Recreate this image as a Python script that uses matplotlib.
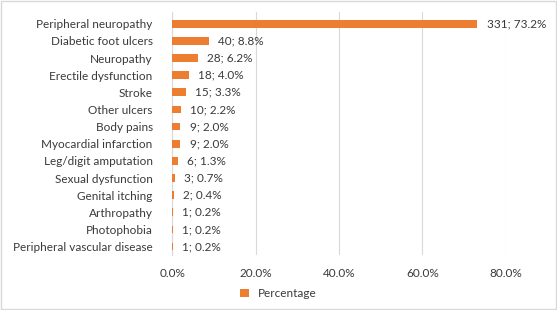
import matplotlib; matplotlib.use("Agg")
import matplotlib.pyplot as plt
from matplotlib.ticker import FuncFormatter
from matplotlib.patches import Rectangle

conditions = ["Peripheral neuropathy", "Diabetic foot ulcers", "Neuropathy", "Erectile dysfunction",
              "Stroke", "Other ulcers", "Body pains", "Myocardial infarction", "Leg/digit amputation",
              "Sexual dysfunction", "Genital itching", "Arthropathy", "Photophobia",
              "Peripheral vascular disease"]
counts = [331, 40, 28, 18, 15, 10, 9, 9, 6, 3, 2, 1, 1, 1]
percent = [73.2, 8.8, 6.2, 4.0, 3.3, 2.2, 2.0, 2.0, 1.3, 0.7, 0.4, 0.2, 0.2, 0.2]

plt.rcParams["font.family"] = ["Lato", "DejaVu Sans"]
TXT = "#3A3A3A"; ORANGE = "#ED7D31"; FS = 8.5

fig = plt.figure(figsize=(5.57, 3.10), dpi=100)
ax = fig.add_axes([0.309, 0.177, 0.599, 0.785])
y = list(range(len(conditions)))
ax.barh(y, percent, height=0.45, color=ORANGE, label="Percentage", zorder=3)
for yi, c, p in zip(y, counts, percent):
    ax.text(p + 2.2, yi, f"{c}; {p:.1f}%", va="center", ha="left", fontsize=FS, color=TXT)
ax.set_yticks(y); ax.set_yticklabels(conditions, fontsize=FS, color=TXT)
ax.set_ylim(len(conditions) - 0.5, -0.7)
ax.set_xlim(0, 80); ax.set_xticks([0, 20, 40, 60, 80])
ax.xaxis.set_major_formatter(FuncFormatter(lambda v, _: f"{v:.1f}%"))
ax.tick_params(axis="x", labelsize=FS, labelcolor=TXT, length=0, pad=9)
ax.tick_params(axis="y", length=0, pad=14)
ax.grid(axis="x", color="#D9D9D9", lw=0.8, zorder=0)
for s in ["top", "right", "bottom"]: ax.spines[s].set_visible(False)
ax.spines["left"].set_color("#D9D9D9")
fig.legend(loc="lower center", bbox_to_anchor=(0.5, 0.0), frameon=False, fontsize=FS,
           handlelength=0.7, handleheight=0.7, labelcolor=TXT)
fig.patches.append(Rectangle((0.002, 0.004), 0.996, 0.992, transform=fig.transFigure,
                             fill=False, ec="#D9D9D9", lw=1))
fig.savefig("out.png", dpi=100)
